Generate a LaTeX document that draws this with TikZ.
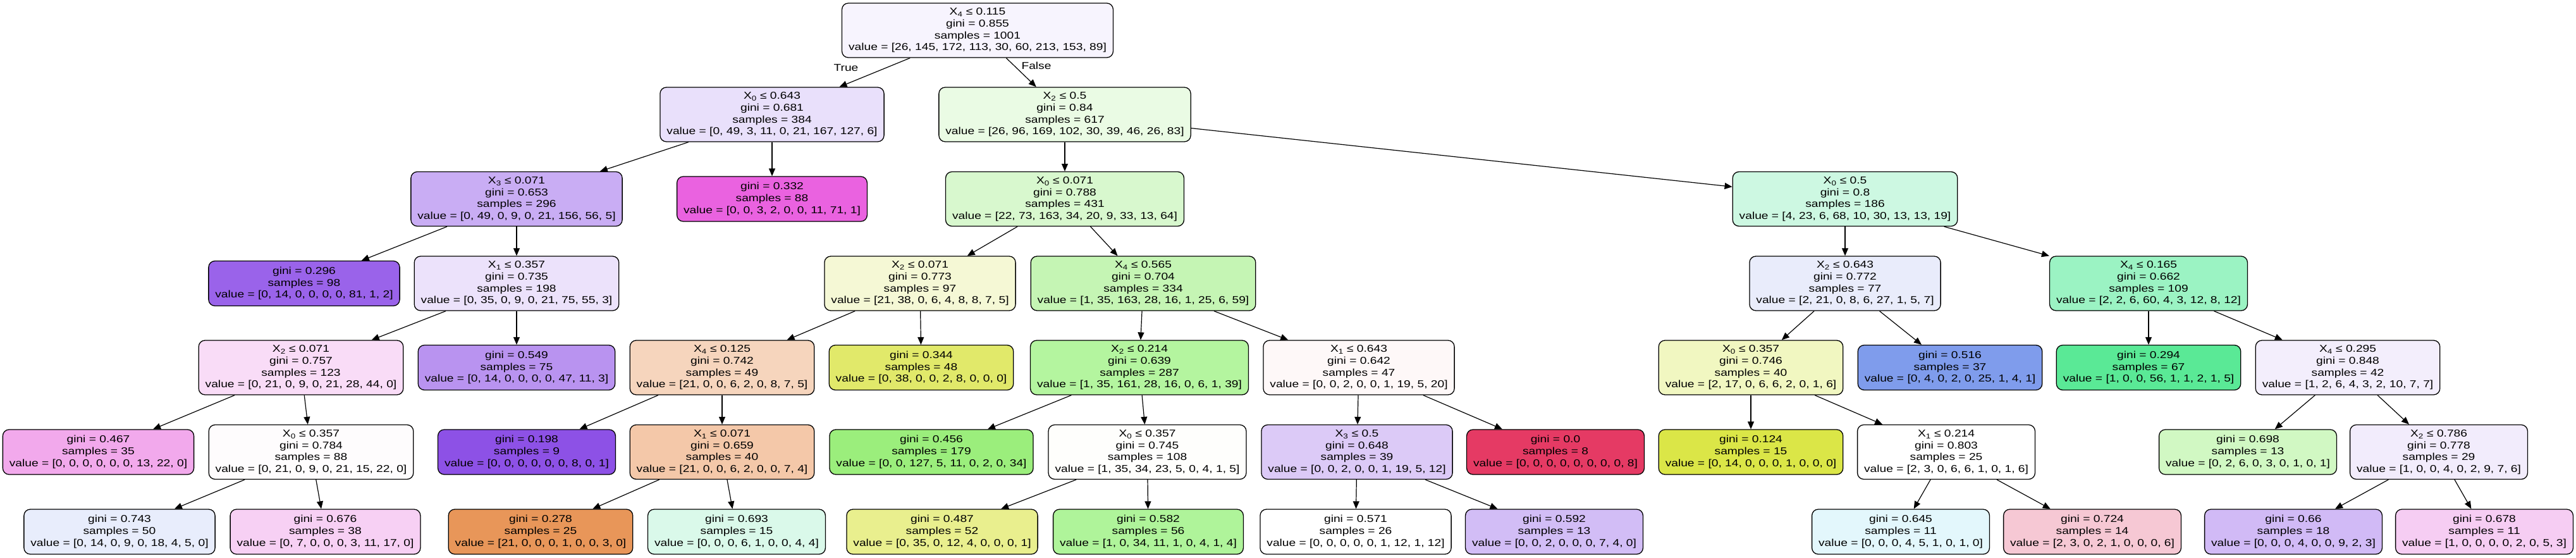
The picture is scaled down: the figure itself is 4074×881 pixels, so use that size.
\documentclass[tikz,border=0pt]{standalone}
\usepackage{fontspec}
\setmainfont{Liberation Sans}[FakeStretch=1.215]
\usetikzlibrary{arrows.meta}
\definecolor{c0}{HTML}{F7F4FE}
\definecolor{c1}{HTML}{E9E0FB}
\definecolor{c2}{HTML}{EAFBE4}
\definecolor{c3}{HTML}{C9ADF4}
\definecolor{c4}{HTML}{EA62E0}
\definecolor{c5}{HTML}{D8F8CE}
\definecolor{c6}{HTML}{CDF8E2}
\definecolor{c7}{HTML}{9A63EA}
\definecolor{c8}{HTML}{ECE2FB}
\definecolor{c9}{HTML}{F5F8D5}
\definecolor{c10}{HTML}{C5F5B4}
\definecolor{c11}{HTML}{E9ECFB}
\definecolor{c12}{HTML}{9BF3C3}
\definecolor{c13}{HTML}{F9DCF7}
\definecolor{c14}{HTML}{B993F0}
\definecolor{c15}{HTML}{F6D5BD}
\definecolor{c16}{HTML}{E1E96A}
\definecolor{c17}{HTML}{B4F59F}
\definecolor{c18}{HTML}{FEF8F8}
\definecolor{c19}{HTML}{F1F7C1}
\definecolor{c20}{HTML}{7F9CEC}
\definecolor{c21}{HTML}{5AE996}
\definecolor{c22}{HTML}{F3EEFC}
\definecolor{c23}{HTML}{F2A9EC}
\definecolor{c24}{HTML}{FEFCFD}
\definecolor{c25}{HTML}{8D51E6}
\definecolor{c26}{HTML}{F4C8A9}
\definecolor{c27}{HTML}{9BEE7C}
\definecolor{c28}{HTML}{FEFEFC}
\definecolor{c29}{HTML}{DCCAF7}
\definecolor{c30}{HTML}{E53A64}
\definecolor{c31}{HTML}{DBE647}
\definecolor{c32}{HTML}{FFFFFF}
\definecolor{c33}{HTML}{D1F8C3}
\definecolor{c34}{HTML}{F2ECFC}
\definecolor{c35}{HTML}{E8EDFC}
\definecolor{c36}{HTML}{F7D0F4}
\definecolor{c37}{HTML}{E89659}
\definecolor{c38}{HTML}{DAF9EA}
\definecolor{c39}{HTML}{E9EF8E}
\definecolor{c40}{HTML}{AFF49A}
\definecolor{c41}{HTML}{FFFFFF}
\definecolor{c42}{HTML}{D2BDF6}
\definecolor{c43}{HTML}{E3F7FC}
\definecolor{c44}{HTML}{F6C8D4}
\definecolor{c45}{HTML}{D1BAF6}
\definecolor{c46}{HTML}{F6CDF3}
\begin{document}
\begin{tikzpicture}[x=1pt,y=-1pt,
  base/.style={draw=black, line width=1.3pt, rounded corners=10pt, align=center,
    inner xsep=10.5pt, inner ysep=0pt, font=\fontsize{15.8}{18.6}\selectfont},
  split/.style={base, minimum height=86pt},
  leaf/.style={base, minimum height=71pt},
  edge/.style={line width=1.2pt, -{Triangle[length=12pt,width=10pt]}},
  lbl/.style={font=\fontsize{15.8}{18.6}\selectfont, inner sep=0pt}]
\fill[white] (0,0) rectangle (4074,881);
\useasboundingbox (0,0) rectangle (4074,881);
% row 1
\node[split,fill=c0] (n0) at (1546,48) {X\textsubscript{4} ≤ 0.115\\gini = 0.855\\samples = 1001\\value = [26, 145, 172, 113, 30, 60, 213, 153, 89]};
% row 2
\node[split,fill=c1] (n1) at (1221,181) {X\textsubscript{0} ≤ 0.643\\gini = 0.681\\samples = 384\\value = [0, 49, 3, 11, 0, 21, 167, 127, 6]};
\node[split,fill=c2] (n2) at (1684,181) {X\textsubscript{2} ≤ 0.5\\gini = 0.84\\samples = 617\\value = [26, 96, 169, 102, 30, 39, 46, 26, 83]};
% row 3
\node[split,fill=c3] (n3) at (817,314.5) {X\textsubscript{3} ≤ 0.071\\gini = 0.653\\samples = 296\\value = [0, 49, 0, 9, 0, 21, 156, 56, 5]};
\node[leaf,fill=c4] (n4) at (1221,314.5) {gini = 0.332\\samples = 88\\value = [0, 0, 3, 2, 0, 0, 11, 71, 1]};
\node[split,fill=c5] (n5) at (1684,314.5) {X\textsubscript{0} ≤ 0.071\\gini = 0.788\\samples = 431\\value = [22, 73, 163, 34, 20, 9, 33, 13, 64]};
\node[split,fill=c6] (n6) at (2918,314.5) {X\textsubscript{0} ≤ 0.5\\gini = 0.8\\samples = 186\\value = [4, 23, 6, 68, 10, 30, 13, 13, 19]};
% row 4
\node[leaf,fill=c7] (n7) at (481,448) {gini = 0.296\\samples = 98\\value = [0, 14, 0, 0, 0, 0, 81, 1, 2]};
\node[split,fill=c8] (n8) at (817,448) {X\textsubscript{1} ≤ 0.357\\gini = 0.735\\samples = 198\\value = [0, 35, 0, 9, 0, 21, 75, 55, 3]};
\node[split,fill=c9] (n9) at (1455,448) {X\textsubscript{2} ≤ 0.071\\gini = 0.773\\samples = 97\\value = [21, 38, 0, 6, 4, 8, 8, 7, 5]};
\node[split,fill=c10] (n10) at (1808,448) {X\textsubscript{4} ≤ 0.565\\gini = 0.704\\samples = 334\\value = [1, 35, 163, 28, 16, 1, 25, 6, 59]};
\node[split,fill=c11] (n11) at (2918,448) {X\textsubscript{2} ≤ 0.643\\gini = 0.772\\samples = 77\\value = [2, 21, 0, 8, 6, 27, 1, 5, 7]};
\node[split,fill=c12] (n12) at (3398,448) {X\textsubscript{4} ≤ 0.165\\gini = 0.662\\samples = 109\\value = [2, 2, 6, 60, 4, 3, 12, 8, 12]};
% row 5
\node[split,fill=c13] (n13) at (476,581) {X\textsubscript{2} ≤ 0.071\\gini = 0.757\\samples = 123\\value = [0, 21, 0, 9, 0, 21, 28, 44, 0]};
\node[leaf,fill=c14] (n14) at (817,581) {gini = 0.549\\samples = 75\\value = [0, 14, 0, 0, 0, 0, 47, 11, 3]};
\node[split,fill=c15] (n15) at (1142,581) {X\textsubscript{4} ≤ 0.125\\gini = 0.742\\samples = 49\\value = [21, 0, 0, 6, 2, 0, 8, 7, 5]};
\node[leaf,fill=c16] (n16) at (1457,581) {gini = 0.344\\samples = 48\\value = [0, 38, 0, 0, 2, 8, 0, 0, 0]};
\node[split,fill=c17] (n17) at (1802,581) {X\textsubscript{2} ≤ 0.214\\gini = 0.639\\samples = 287\\value = [1, 35, 161, 28, 16, 0, 6, 1, 39]};
\node[split,fill=c18] (n18) at (2149,581) {X\textsubscript{1} ≤ 0.643\\gini = 0.642\\samples = 47\\value = [0, 0, 2, 0, 0, 1, 19, 5, 20]};
\node[split,fill=c19] (n19) at (2769,581) {X\textsubscript{0} ≤ 0.357\\gini = 0.746\\samples = 40\\value = [2, 17, 0, 6, 6, 2, 0, 1, 6]};
\node[leaf,fill=c20] (n20) at (3084,581) {gini = 0.516\\samples = 37\\value = [0, 4, 0, 2, 0, 25, 1, 4, 1]};
\node[leaf,fill=c21] (n21) at (3398,581) {gini = 0.294\\samples = 67\\value = [1, 0, 0, 56, 1, 1, 2, 1, 5]};
\node[split,fill=c22] (n22) at (3713,581) {X\textsubscript{4} ≤ 0.295\\gini = 0.848\\samples = 42\\value = [1, 2, 6, 4, 3, 2, 10, 7, 7]};
% row 6
\node[leaf,fill=c23] (n23) at (155.5,714.5) {gini = 0.467\\samples = 35\\value = [0, 0, 0, 0, 0, 0, 13, 22, 0]};
\node[split,fill=c24] (n24) at (492,714.5) {X\textsubscript{0} ≤ 0.357\\gini = 0.784\\samples = 88\\value = [0, 21, 0, 9, 0, 21, 15, 22, 0]};
\node[leaf,fill=c25] (n25) at (833,714.5) {gini = 0.198\\samples = 9\\value = [0, 0, 0, 0, 0, 0, 8, 0, 1]};
\node[split,fill=c26] (n26) at (1142,714.5) {X\textsubscript{1} ≤ 0.071\\gini = 0.659\\samples = 40\\value = [21, 0, 0, 6, 2, 0, 0, 7, 4]};
\node[leaf,fill=c27] (n27) at (1473,714.5) {gini = 0.456\\samples = 179\\value = [0, 0, 127, 5, 11, 0, 2, 0, 34]};
\node[split,fill=c28] (n28) at (1814.5,714.5) {X\textsubscript{0} ≤ 0.357\\gini = 0.745\\samples = 108\\value = [1, 35, 34, 23, 5, 0, 4, 1, 5]};
\node[split,fill=c29] (n29) at (2146,714.5) {X\textsubscript{3} ≤ 0.5\\gini = 0.648\\samples = 39\\value = [0, 0, 2, 0, 0, 1, 19, 5, 12]};
\node[leaf,fill=c30] (n30) at (2460,714.5) {gini = 0.0\\samples = 8\\value = [0, 0, 0, 0, 0, 0, 0, 0, 8]};
\node[leaf,fill=c31] (n31) at (2769,714.5) {gini = 0.124\\samples = 15\\value = [0, 14, 0, 0, 0, 1, 0, 0, 0]};
\node[split,fill=c32] (n32) at (3078,714.5) {X\textsubscript{1} ≤ 0.214\\gini = 0.803\\samples = 25\\value = [2, 3, 0, 6, 6, 1, 0, 1, 6]};
\node[leaf,fill=c33] (n33) at (3555,714.5) {gini = 0.698\\samples = 13\\value = [0, 2, 6, 0, 3, 0, 1, 0, 1]};
\node[split,fill=c34] (n34) at (3857,714.5) {X\textsubscript{2} ≤ 0.786\\gini = 0.778\\samples = 29\\value = [1, 0, 0, 4, 0, 2, 9, 7, 6]};
% row 7
\node[leaf,fill=c35] (n35) at (189,840.5) {gini = 0.743\\samples = 50\\value = [0, 14, 0, 9, 0, 18, 4, 5, 0]};
\node[leaf,fill=c36] (n36) at (514.5,840.5) {gini = 0.676\\samples = 38\\value = [0, 7, 0, 0, 0, 3, 11, 17, 0]};
\node[leaf,fill=c37] (n37) at (855,840.5) {gini = 0.278\\samples = 25\\value = [21, 0, 0, 0, 1, 0, 0, 3, 0]};
\node[leaf,fill=c38] (n38) at (1165,840.5) {gini = 0.693\\samples = 15\\value = [0, 0, 0, 6, 1, 0, 0, 4, 4]};
\node[leaf,fill=c39] (n39) at (1490,840.5) {gini = 0.487\\samples = 52\\value = [0, 35, 0, 12, 4, 0, 0, 0, 1]};
\node[leaf,fill=c40] (n40) at (1816,840.5) {gini = 0.582\\samples = 56\\value = [1, 0, 34, 11, 1, 0, 4, 1, 4]};
\node[leaf,fill=c41] (n41) at (2144,840.5) {gini = 0.571\\samples = 26\\value = [0, 0, 0, 0, 0, 1, 12, 1, 12]};
\node[leaf,fill=c42] (n42) at (2458,840.5) {gini = 0.592\\samples = 13\\value = [0, 0, 2, 0, 0, 0, 7, 4, 0]};
\node[leaf,fill=c43] (n43) at (3006,840.5) {gini = 0.645\\samples = 11\\value = [0, 0, 0, 4, 5, 1, 0, 1, 0]};
\node[leaf,fill=c44] (n44) at (3309,840.5) {gini = 0.724\\samples = 14\\value = [2, 3, 0, 2, 1, 0, 0, 0, 6]};
\node[leaf,fill=c45] (n45) at (3627,840.5) {gini = 0.66\\samples = 18\\value = [0, 0, 0, 4, 0, 0, 9, 2, 3]};
\node[leaf,fill=c46] (n46) at (3929,840.5) {gini = 0.678\\samples = 11\\value = [1, 0, 0, 0, 0, 2, 0, 5, 3]};
% edge labels
\node[lbl] (ltrue) at (1338,107) {True};
\node[lbl] (lfalse) at (1639,104) {False};
% edges
\foreach \a/\b in {n0/n1,n0/n2,n1/n3,n1/n4,n2/n5,n2/n6,
  n3/n7,n3/n8,n5/n9,n5/n10,n6/n11,n6/n12,
  n8/n13,n8/n14,n9/n15,n9/n16,n10/n17,n10/n18,n11/n19,n11/n20,n12/n21,n12/n22,
  n13/n23,n13/n24,n15/n25,n15/n26,n17/n27,n17/n28,n18/n29,n18/n30,n19/n31,n19/n32,n22/n33,n22/n34,
  n24/n35,n24/n36,n26/n37,n26/n38,n28/n39,n28/n40,n29/n41,n29/n42,n32/n43,n32/n44,n34/n45,n34/n46}
  \draw[edge] (\a) -- (\b);
\end{tikzpicture}
\end{document}
